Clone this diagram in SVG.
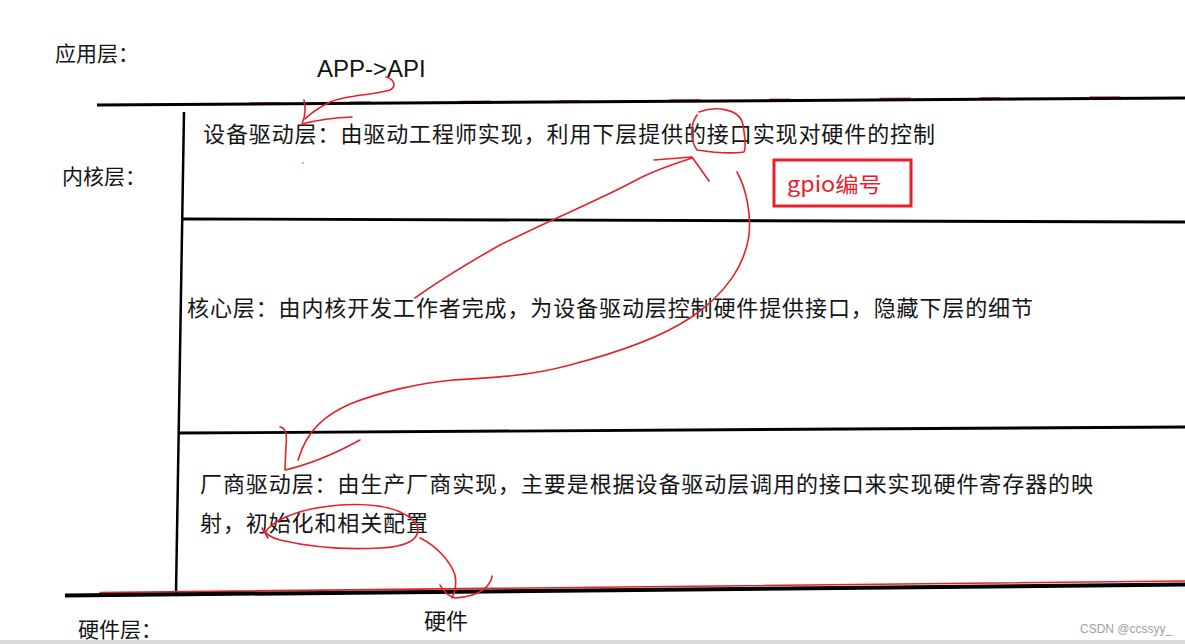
<svg xmlns="http://www.w3.org/2000/svg" width="1185" height="644" viewBox="0 0 1185 644">
<style>
.t{font-family:"Noto Sans CJK SC","Liberation Sans",sans-serif;fill:#141414}
.blk{stroke:#000;fill:none;stroke-linecap:butt}
.red{stroke:#e8202a;fill:none;stroke-width:1.6;stroke-linecap:round;stroke-linejoin:round}
</style>
<rect x="0" y="0" width="1185" height="644" fill="#fff"/>
<rect x="0" y="640" width="1185" height="4" fill="#d9d9d9"/>

<g id="frame">
  <line class="red" x1="250" y1="103" x2="1185" y2="96.5" stroke-dasharray="30 70 20 90" stroke-width="1.2" opacity="0.8"/>
  <line class="blk" x1="97" y1="105" x2="1185" y2="98" stroke-width="3"/>
  <line class="blk" x1="184" y1="112" x2="176" y2="594" stroke-width="2.5"/>
  <line class="blk" x1="183" y1="219" x2="1185" y2="222" stroke-width="2.8"/>
  <line class="blk" x1="178" y1="433" x2="1185" y2="427" stroke-width="2.8"/>
  <line class="red" x1="100" y1="592.5" x2="1185" y2="581" stroke-width="2"/>
  <line class="blk" x1="65" y1="595.5" x2="1185" y2="584.5" stroke-width="4"/>
</g>

<g id="labels">
  <text class="t" x="55" y="61" font-size="21">应用层：</text>
  <text x="317" y="77" font-size="24" font-family="'Liberation Sans',Arial,sans-serif" fill="#141414">APP-&gt;API</text>
  <text class="t" x="62" y="184" font-size="21">内核层：</text>
  <text class="t" x="78" y="636.5" font-size="21">硬件层：</text>
  <text class="t" x="424" y="628.5" font-size="22">硬件</text>
  <text x="1080" y="633" font-size="12" font-family="'Liberation Sans',Arial,sans-serif" fill="#a0a0a0">CSDN @ccssyy_</text>
</g>

<g id="device-driver-layer">
  <text class="t" x="203" y="142" font-size="22" textLength="732" lengthAdjust="spacing">设备驱动层：由驱动工程师实现，利用下层提供的接口实现对硬件的控制</text>
</g>

<g id="gpio-note">
  <rect x="774" y="160" width="137" height="46" fill="none" stroke="#e8202a" stroke-width="3"/>
  <text x="787" y="192" font-size="21" textLength="95" lengthAdjust="spacingAndGlyphs" font-family="'Noto Sans CJK SC','Liberation Sans',sans-serif" fill="#e8202a">gpio编号</text>
</g>

<g id="core-layer">
  <text class="t" x="187" y="316" font-size="22" textLength="846" lengthAdjust="spacing">核心层：由内核开发工作者完成，为设备驱动层控制硬件提供接口，隐藏下层的细节</text>
</g>

<g id="vendor-driver-layer">
  <text class="t" x="200" y="492" font-size="22" textLength="893" lengthAdjust="spacing">厂商驱动层：由生产厂商实现，主要是根据设备驱动层调用的接口来实现硬件寄存器的映</text>
  <text class="t" x="200" y="530.5" font-size="22" textLength="228" lengthAdjust="spacing">射，初始化和相关配置</text>
</g>

<g id="connectors">
  <path class="red" d="M386 77 C 394 79, 397 86, 390 90 C 375 95, 345 95, 330 102 C 318 108, 310 114, 305 119"/>
  <path class="red" d="M304 100 Q 307 112 302 124 Q 325 118 352 117"/>
  <circle cx="303" cy="163" r="0.8" fill="#e8202a"/>

  <path class="red" d="M699 112 C 715 106, 740 108, 743 125 C 745 137, 746 148, 744 152 C 730 154, 710 152, 697 150 C 690 140, 690 125, 697 115"/>
  <path class="red" d="M415 298 C 440 280, 470 262, 500 245 C 560 215, 600 200, 640 178 C 660 168, 680 162, 692 158"/>
  <path class="red" d="M654 160 L 692 157 L 709 181"/>

  <path class="red" d="M737 172 C 747 190, 751 215, 749 235 C 745 265, 725 295, 690 318 C 660 338, 620 352, 570 365 C 530 376, 490 378, 453 380 C 420 383, 380 392, 350 404 C 325 415, 307 430, 298 460"/>
  <path class="red" d="M280 427 Q 288 428 286 445 L 285 470 Q 320 462 360 440"/>

  <path class="red" d="M265 533 C 272 520, 300 508, 340 505 C 375 503, 405 508, 417 525 C 422 540, 405 547, 380 548 C 345 550, 310 547, 280 540 C 272 538, 266 535, 262 528 L 268 538"/>
  <path class="red" d="M420 538 C 435 545, 450 560, 455 575 C 457 585, 455 592, 452 598"/>
  <path class="red" d="M440 585 Q 445 595 455 598 Q 480 596 488 585 Q 492 580 492 576"/>
</g>
</svg>
